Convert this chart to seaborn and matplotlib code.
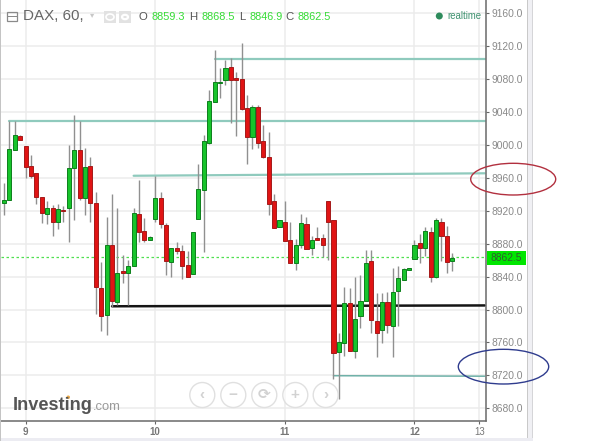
import matplotlib
matplotlib.use("Agg")
import matplotlib.pyplot as plt
from matplotlib.patches import Ellipse, Rectangle, Circle
import seaborn as sns
import pandas as pd

opens = [8929,8933,8994,9011,8999,8974,8966,8937,8916,8924,8906,8921,8924,8972,8994,8935,8974,8930,8826,8793,8878,8809,8847,8844,
         8853,8916,8895,8884,8910,8935,8903,8858,8875,8871,8854,8843,8910,8945,9003,9052,9075,9079,9095,9082,9080,9045,9010,9046,
         9005,8986,8932,8900,8906,8884,8856,8879,8904,8875,8887,8887,8932,8909,8748,8759,8808,8750,8792,8810,8859,8786,8775,8809,
         8780,8823,8836,8848,8861,8881,8875,8894,8839,8907,8889,8859.3]
highs = [8954,9029,9029,9012,8999,8988,8966,8937,8932,8927,8928,8926,9000,9037,9029,8996,8985,8943,8858,8912,8941,8924,8866,8860,
         8923,8957,8911,8889,8962,8943,8905,8875,8882,8879,8871,8894,8977,9012,9067,9116,9093,9103,9106,9089,9124,9061,9048,9048,
         9024,9016,8941,8909,8932,8907,8886,8916,8912,8890,8900,8892,8932,8909,8771,8828,8826,8840,8842,8872,8872,8820,8820,8821,
         8851,8853,8851,8851,8884,8892,8900,8900,8911,8911,8901,8868.5]
lows = [8915,8933,8994,9006,8960,8960,8928,8905,8904,8889,8898,8907,8882,8909,8933,8915,8907,8795,8774,8769,8803,8805,8832,8806,
        8853,8882,8882,8884,8906,8899,8842,8840,8868,8837,8839,8843,8910,8870,9001,9052,9057,9073,9027,9011,9042,8977,8995,8996,
        8984,8915,8899,8900,8883,8856,8848,8875,8873,8866,8884,8864,8860,8716,8691,8744,8750,8741,8778,8810,8771,8742,8759,8772,
        8742,8780,8836,8848,8861,8856,8865,8834,8838,8859,8845,8846.9]
closes = [8933,8995,9012,9006,8973,8962,8937,8917,8923,8907,8922,8920,8972,8994,8935,8973,8930,8827,8792,8878,8810,8844,8845,8853,
          8917,8894,8884,8888,8935,8904,8859,8875,8871,8853,8839,8894,8947,9005,9054,9076,9076,9093,9079,9079,9044,9010,9046,9003,
          8985,8928,8899,8909,8883,8856,8879,8905,8873,8884,8884,8879,8906,8747,8761,8808,8750,8788,8811,8856,8787,8772,8809,8781,
          8821,8838,8849,8851,8879,8875,8896,8840,8909,8890,8858,8862.5]

y_ticks = [9160,9120,9080,9040,9000,8960,8920,8880,8840,8800,8760,8720,8680]
day_labels = ["9","10","11","12","13"]
day_bars = [4,28,52,76,88]
last_price = 8862.5
header_values = ["8859.3","8868.5","8846.9","8862.5"]

level_x = [[1,89],[39,89],[24,89]]
level_y = [[9029,9029],[9105,9105],[8962.6,8965.6]]
black_x = [20,89]
black_y = [8804,8805]
low_x = [61,89]
low_y = [8719.6,8719]

W, H = 605, 441
GRID = "#ececec"
sns.set_theme(style="white", rc={"font.family": ["Liberation Sans", "DejaVu Sans"]})
plt.rcParams["font.family"] = ["Liberation Sans", "DejaVu Sans"]

fig = plt.figure(figsize=(W/100, H/100), dpi=100, facecolor="white")
ax = fig.add_axes([1/W, 1-421.3/H, 485.3/W, 421.3/H])
ax.set_xlim(-0.56, 89.3)
ax.set_ylim(8664.2, 9176.2)

df = pd.DataFrame({"bar": range(len(opens)), "open": opens, "high": highs, "low": lows, "close": closes})
up = df["close"] >= df["open"]

ax.set_axisbelow(True)
ax.grid(True, color=GRID, lw=1.1)
ax.set_yticks(y_ticks)
ax.set_yticklabels([f"{v:.1f}" for v in y_ticks], color="#8a8a8a", fontsize=7.4)
ax.yaxis.tick_right()
ax.set_xticks(day_bars)
ax.set_xticklabels(day_labels, color="#777777", fontsize=7, fontweight="bold")
ax.tick_params(axis="y", length=2.5, width=0.8, color="#666666", pad=1.5, right=True)
ax.tick_params(axis="x", length=2.2, width=0.8, color="#666666", pad=2, bottom=True)
ax.get_xticklabels()[-1].set_fontweight("normal")
for s in ["top", "left"]:
    ax.spines[s].set_visible(False)
for s in ["right", "bottom"]:
    ax.spines[s].set_color("#6a6a6a")
    ax.spines[s].set_linewidth(1.1)

for xs, ys in zip(level_x, level_y):
    sns.lineplot(x=xs, y=ys, ax=ax, color="#8fcabd", lw=1.6, estimator=None, legend=False, zorder=2)
sns.lineplot(x=black_x, y=black_y, ax=ax, color="#151515", lw=1.8, estimator=None, legend=False, zorder=2)
sns.lineplot(x=low_x, y=low_y, ax=ax, color="#6fb1a8", lw=1.1, estimator=None, legend=False, zorder=2)
ax.axhline(last_price + 1, color="#4fe04f", lw=0.9, ls=(0, (2, 2)), zorder=2)

ax.vlines(df["bar"], df["low"], df["high"], color="#909090", lw=1.0, zorder=3)
bottoms = df[["open", "close"]].min(axis=1)
heights = (df["close"] - df["open"]).abs()
ax.bar(df["bar"][up], heights[up], bottom=bottoms[up], width=0.76, color="#17c42b", edgecolor="#0d7f1c", lw=0.7, zorder=4)
ax.bar(df["bar"][~up], heights[~up], bottom=bottoms[~up], width=0.76, color="#e01414", edgecolor="#a51a1a", lw=0.7, zorder=4)

def X(x): return x / W
def Y(y): return 1 - y / H

def ftext(x, y, s, **kw):
    kw.setdefault("va", "center")
    fig.text(X(x), Y(y), s, **kw)

def frect(x0, y0, x1, y1, **kw):
    fig.add_artist(Rectangle((X(x0), Y(y1)), (x1-x0)/W, (y1-y0)/H, transform=fig.transFigure, **kw))

def fellipse(x0, y0, x1, y1, **kw):
    fig.add_artist(Ellipse((X((x0+x1)/2), Y((y0+y1)/2)), (x1-x0)/W, (y1-y0)/H, transform=fig.transFigure, **kw))

# frame bands around the widget
frect(0, 0, 1.2, H, fc="#c4c4c4", ec="none")
frect(527, 0, 533, 438, fc="#f0f0f4", ec="none")
frect(526.7, 0, 527.5, 438, fc="#c9c9c9", ec="none")
frect(532.3, 0, 533, 438, fc="#d5d5d8", ec="none")
frect(1, 438, 533, H, fc="#ececf2", ec="none")

# price tag
frect(486.5, 251, 526, 265, fc="#00e600", ec="none", zorder=5)
ftext(506, 258.4, f"{last_price:.1f}", color="#2f5f2f", fontsize=7.4, ha="center", zorder=6)

# header
frect(6.5, 11.5, 17, 21, fc="none", ec="#8a8a8a", lw=0.9)
frect(6.5, 16, 17, 16.8, fc="#8a8a8a", ec="none")
ftext(23, 16.5, "DAX, 60,", color="#666666", fontsize=10.9)
ftext(92, 16, "▾", color="#c8c8c8", fontsize=6, ha="center")
frect(104, 11, 116, 23, fc="#e2e2e2", ec="none")
frect(119, 11, 131, 23, fc="#e2e2e2", ec="none")
fellipse(106, 14, 114, 20, fc="none", ec="white", lw=1.2)
fig.add_artist(Circle((X(125), Y(17)), 3/W, transform=fig.transFigure, fc="none", ec="white", lw=1.6))
for lx, letter, vx, val in zip([143, 193, 242, 290], ["O", "H", "L", "C"], [151, 201, 249, 297], header_values):
    ftext(lx, 17, letter, color="#555555", fontsize=8.2, ha="center")
    ftext(vx, 17, val, color="#35dc35", fontsize=7.8)

# realtime
fellipse(435.8, 12.5, 442.8, 19.5, fc="#2e8b5c", ec="none")
ftext(447, 16, "realtime", color="#3f9270", fontsize=6.9)

# ovals
fellipse(470.7, 163.3, 555.7, 195, fc="none", ec="#b2303f", lw=1.0, zorder=7)
fellipse(458.3, 349.3, 548.7, 384, fc="none", ec="#2f3c8e", lw=1.0, zorder=7)

# zoom buttons
for cx, glyph in zip([202.3, 233.3, 264.3, 295.3, 325.7], ["‹", "−", "⟳", "+", "›"]):
    fellipse(cx-12.5, 382.5, cx+12.5, 407.5, fc=(1, 1, 1, 0.55), ec="#e0e0e0", lw=1.0, zorder=8)
    fig.text(X(cx), Y(395), glyph, color="#d2d2d2", fontsize=11, ha="center", va="center", fontweight="bold", zorder=9)

# logo
ftext(13, 405, "Investing", color="#555555", fontsize=13.1, fontweight="bold")
ftext(93, 407, ".com", color="#9a9a9a", fontsize=9.4)
fellipse(66.5, 395.5, 70, 399, fc="#e8a84a", ec="none")

fig.savefig("out.png", dpi=100, facecolor="white")
